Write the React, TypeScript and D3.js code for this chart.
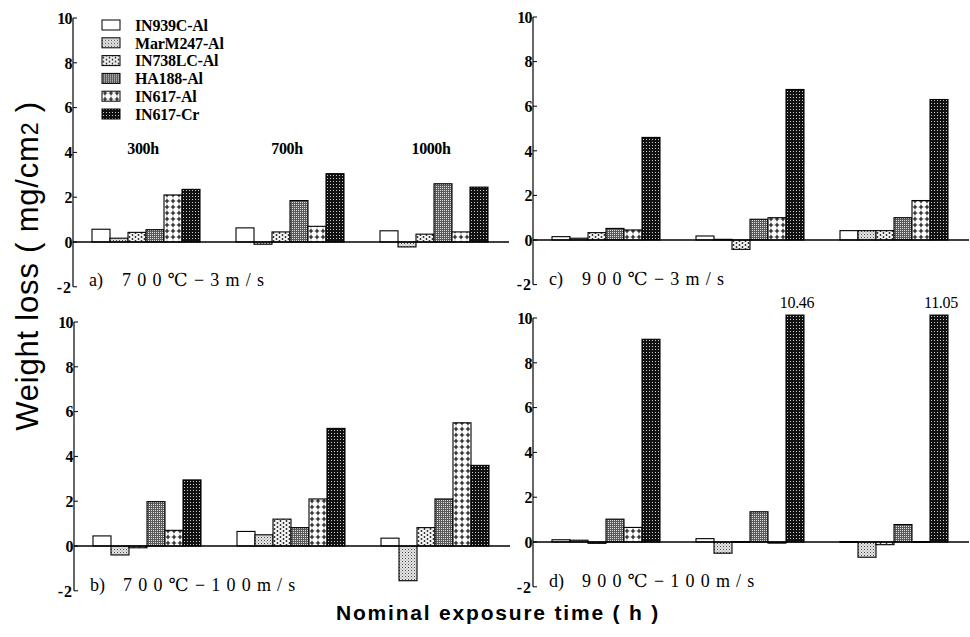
import React from "react";
import * as d3 from "d3";

const alloys = ["IN939C-Al", "MarM247-Al", "IN738LC-Al", "HA188-Al", "IN617-Al", "IN617-Cr"];
const times = ["300h", "700h", "1000h"];
const yTicks = [-2, 0, 2, 4, 6, 8, 10];

// values per time group, in alloy order
const a700C3ms = [
  [0.57, 0.17, 0.43, 0.55, 2.1, 2.35],
  [0.63, -0.1, 0.45, 1.85, 0.7, 3.05],
  [0.5, -0.22, 0.35, 2.6, 0.45, 2.45],
];
const c900C3ms = [
  [0.15, 0.08, 0.33, 0.52, 0.45, 4.6],
  [0.18, 0.03, -0.42, 0.93, 1.0, 6.75],
  [0.42, 0.42, 0.42, 1.0, 1.77, 6.3],
];
const b700C100ms = [
  [0.45, -0.4, -0.08, 1.98, 0.7, 2.95],
  [0.65, 0.5, 1.2, 0.82, 2.1, 5.25],
  [0.35, -1.55, 0.82, 2.1, 5.5, 3.6],
];
const d900C100ms = [
  [0.1, 0.08, -0.06, 1.02, 0.65, 9.05],
  [0.15, -0.5, 0.02, 1.35, -0.05, 10.46],
  [0.02, -0.68, -0.12, 0.78, 0.02, 11.05],
];

const panelPrefixes = ["a)", "b)", "c)", "d)"];
const panelConditions = ["700℃−3m/s", "700℃−100m/s", "900℃−3m/s", "900℃−100m/s"];
const clipMax = 10.13;

const W = 970;
const H = 637;

const patternIds = ["pNone", "pLight", "pDots", "pMed", "pCross", "pDark"];

const serif = "'Liberation Serif', 'DejaVu Serif', serif";
const sans = "'Liberation Sans', Arial, sans-serif";

type PanelDef = {
  data: number[][];
  prefix: string;
  cond: string;
  axisX: number;
  yTop: number;
  yZero: number;
  yBottom: number;
  legend?: boolean;
  groupLabels?: boolean;
  labelY: number;
};

const panels: PanelDef[] = [
  { data: a700C3ms, prefix: panelPrefixes[0], cond: panelConditions[0], axisX: 73, yTop: 18, yZero: 242, yBottom: 287, legend: true, groupLabels: true, labelY: 286 },
  { data: b700C100ms, prefix: panelPrefixes[1], cond: panelConditions[1], axisX: 74, yTop: 322, yZero: 546, yBottom: 592, labelY: 591 },
  { data: c900C3ms, prefix: panelPrefixes[2], cond: panelConditions[2], axisX: 533, yTop: 17, yZero: 240, yBottom: 285, labelY: 285 },
  { data: d900C100ms, prefix: panelPrefixes[3], cond: panelConditions[3], axisX: 533, yTop: 318, yZero: 542, yBottom: 587, labelY: 587 },
];

function Panel({ p }: { p: PanelDef }) {
  const y = d3.scaleLinear().domain([0, 10]).range([p.yZero, p.yTop]);
  const x0 = d3
    .scaleBand<string>()
    .domain(times)
    .range([p.axisX + 1, p.axisX + 1 + 432])
    .paddingInner(0.25)
    .paddingOuter(0.125);
  const x1 = d3.scaleBand<string>().domain(alloys).range([0, x0.bandwidth()]);
  return (
    <g>
      {times.map((t, gi) => (
        <g key={t} transform={`translate(${x0(t)},0)`}>
          {alloys.map((a, ai) => {
            const v = p.data[gi][ai];
            const vv = Math.min(v, clipMax);
            const y1 = y(Math.max(vv, 0));
            const y2 = y(Math.min(vv, 0));
            return (
              <rect
                key={a}
                x={x1(a)}
                y={y1}
                width={x1.bandwidth()}
                height={Math.max(y2 - y1, 0.8)}
                fill={ai === 0 ? "#fff" : `url(#${patternIds[ai]})`}
                stroke="#000"
                strokeWidth={1.1}
              />
            );
          })}
          {alloys.map((a, ai) => {
            const v = p.data[gi][ai];
            if (v <= clipMax) return null;
            return (
              <text
                key={"l" + a}
                x={(x1(a) as number) + x1.bandwidth() / 2 + 2}
                y={y(clipMax) - 7}
                textAnchor="middle"
                fontFamily={serif}
                fontSize={16}
                letterSpacing={-0.3}
                fill="#000"
              >
                {v.toFixed(2)}
              </text>
            );
          })}
        </g>
      ))}
      <line x1={p.axisX} x2={p.axisX + 436} y1={y(0)} y2={y(0)} stroke="#000" strokeWidth={1.5} />
      <line x1={p.axisX} x2={p.axisX} y1={y(-2)} y2={y(10)} stroke="#000" strokeWidth={1.2} />
      {yTicks.map((t) => (
        <g key={t}>
          <line x1={p.axisX} x2={p.axisX + 4} y1={y(t)} y2={y(t)} stroke="#000" strokeWidth={1} />
          <text
            x={p.axisX - 1}
            y={y(t)}
            dy="0.36em"
            textAnchor="end"
            fontFamily={serif}
            fontWeight="bold"
            fontSize={16}
            letterSpacing={t < 0 ? 1 : -0.6}
            fill="#000"
          >
            {t < 0 ? "-2" : String(t)}
          </text>
        </g>
      ))}
      <text x={p.axisX + 16} y={p.labelY} fontFamily={serif} fontSize={18} fill="#000">
        {p.prefix}
      </text>
      <text x={p.axisX + 49} y={p.labelY} fontFamily={serif} fontSize={18} letterSpacing={6.2} fill="#000">
        {p.cond}
      </text>
      {p.groupLabels &&
        times.map((t) => (
          <text
            key={t}
            x={(x0(t) as number) + x0.bandwidth() / 2 - 3}
            y={y(4.2)}
            dy="0.36em"
            textAnchor="middle"
            fontFamily={serif}
            fontWeight="bold"
            fontSize={16}
            letterSpacing={-0.4}
            fill="#000"
          >
            {t}
          </text>
        ))}
      {p.legend &&
        alloys.map((a, i) => (
          <g key={a} transform={`translate(102,${25 + i * 17.8})`}>
            <rect
              x={0}
              y={-5}
              width={18}
              height={10}
              fill={i === 0 ? "#fff" : `url(#${patternIds[i]})`}
              stroke="#000"
              strokeWidth={1}
            />
            <text x={33} y={0} dy="0.36em" fontFamily={serif} fontWeight="bold" fontSize={16} letterSpacing={-0.2} fill="#000">
              {a}
            </text>
          </g>
        ))}
    </g>
  );
}

export default function App() {
  return (
    <svg
      width={W}
      height={H}
      viewBox={`0 0 ${W} ${H}`}
      style={{ position: "absolute", left: 0, top: 0, background: "#fff" }}
    >
      <defs>
        <pattern id="pLight" width={3} height={3} patternUnits="userSpaceOnUse">
          <rect width={3} height={3} fill="#e6e6e6" />
          <rect x={0} y={0} width={1} height={1} fill="#444" />
          <rect x={1.5} y={1.5} width={1} height={1} fill="#888" />
        </pattern>
        <pattern id="pDots" width={6} height={4} patternUnits="userSpaceOnUse">
          <rect width={6} height={4} fill="#f4f4f4" />
          <circle cx={1.5} cy={1} r={0.9} fill="#222" />
          <circle cx={4.5} cy={3} r={0.9} fill="#222" />
        </pattern>
        <pattern id="pMed" width={2} height={2} patternUnits="userSpaceOnUse">
          <rect width={2} height={2} fill="#5a5a5a" />
          <rect x={0} y={0} width={1} height={1} fill="#e0e0e0" />
        </pattern>
        <pattern id="pCross" width={6} height={6} patternUnits="userSpaceOnUse">
          <rect width={6} height={6} fill="#fff" />
          <path d="M3 0.8V5.2M0.8 3H5.2" stroke="#000" strokeWidth={1.1} />
        </pattern>
        <pattern id="pDark" width={3} height={3} patternUnits="userSpaceOnUse">
          <rect width={3} height={3} fill="#111" />
          <rect x={1} y={1} width={1} height={1} fill="#ccc" />
        </pattern>
      </defs>
      <rect width={W} height={H} fill="#fff" />
      {panels.map((p, i) => (
        <Panel key={i} p={p} />
      ))}
      <text
        transform="translate(38,266) rotate(-90)"
        textAnchor="middle"
        fontFamily={sans}
        fontSize={31}
        letterSpacing={0.8}
        fill="#000"
      >
        {"Weight loss ( mg/cm"}
        <tspan fontSize={23}>2</tspan>
        {" )"}
      </text>
      <text
        x={498}
        y={620}
        textAnchor="middle"
        fontFamily={sans}
        fontSize={21}
        fontWeight="bold"
        letterSpacing={1.8}
        fill="#000"
      >
        Nominal exposure time ( h )
      </text>
    </svg>
  );
}
